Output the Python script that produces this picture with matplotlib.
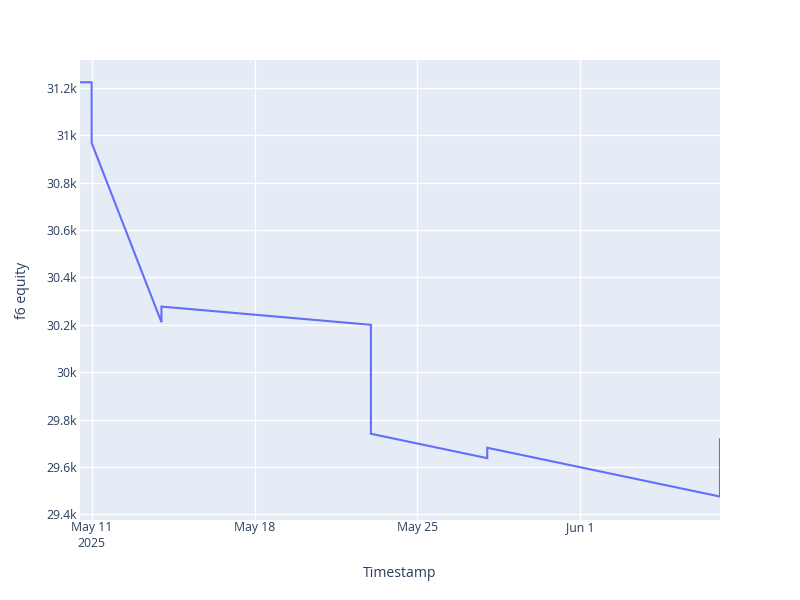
import matplotlib
matplotlib.use("Agg")
import matplotlib.pyplot as plt
import matplotlib.dates as mdates
from matplotlib.ticker import FuncFormatter
import pandas as pd

timestamps = ["2025-05-10 12:00", "2025-05-11 00:00", "2025-05-11 00:01",
              "2025-05-14 00:00", "2025-05-14 00:01", "2025-05-23 00:00",
              "2025-05-23 00:01", "2025-05-28 00:00", "2025-05-28 00:01",
              "2025-06-07 00:00", "2025-06-07 00:01"]
equity = [31224, 31224, 30968, 30211, 30277, 30200, 29740, 29637, 29681, 29475, 29717]

x_tick_dates = ["2025-05-11", "2025-05-18", "2025-05-25", "2025-06-01"]
x_tick_labels = ["May 11\n2025", "May 18", "May 25", "Jun 1"]
y_ticks = [29400, 29600, 29800, 30000, 30200, 30400, 30600, 30800, 31000, 31200]

ts = pd.to_datetime(timestamps)
xt = pd.to_datetime(x_tick_dates)

plt.rcParams['font.family'] = ['Open Sans', 'DejaVu Sans']
txt = '#2a3f5f'

fig = plt.figure(figsize=(8, 6), dpi=100)
ax = fig.add_axes([80/800, 80/600, 640/800, 460/600])
ax.set_facecolor('#E5ECF6')
ax.plot(ts, equity, color='#636EFA', lw=1.5, solid_joinstyle='miter')

ax.set_xlim(ts[0], ts[-1])
ax.set_ylim(29376, 31318)
ax.set_yticks(y_ticks)
def kfmt(v, p):
    s = f"{v/1000:.1f}".rstrip('0').rstrip('.')
    return s + "k"
ax.yaxis.set_major_formatter(FuncFormatter(kfmt))
ax.set_xticks(xt)
ax.set_xticklabels(x_tick_labels)

ax.grid(True, color='white', lw=1)
ax.set_axisbelow(True)
for s in ax.spines.values():
    s.set_visible(False)
ax.tick_params(axis='both', length=0, labelsize=8.8, colors=txt)
ax.tick_params(axis='x', pad=1)
ax.tick_params(axis='y', pad=2)
for lab in ax.get_xticklabels():
    lab.set_linespacing(1.3)

ax.set_xlabel("Timestamp", fontsize=10.08, color=txt, labelpad=11)
ax.set_ylabel("f6 equity", fontsize=10.08, color=txt, labelpad=12)

fig.savefig("out.png", dpi=100)
